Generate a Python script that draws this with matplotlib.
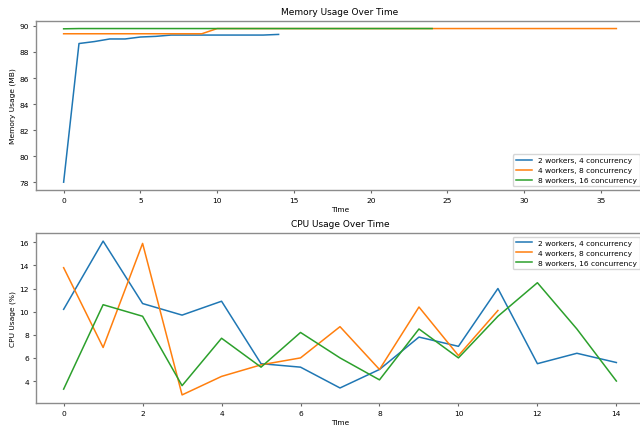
import matplotlib
matplotlib.use("Agg")
import matplotlib.pyplot as plt

labels = ["2 workers, 4 concurrency", "4 workers, 8 concurrency", "8 workers, 16 concurrency"]

# memory usage (MB), one sample per time step
mem_2w = [78.0, 88.65, 88.8, 89.0, 89.0, 89.15, 89.2, 89.3, 89.3, 89.3, 89.3, 89.3, 89.3, 89.3, 89.35]
mem_4w = [89.4] * 10 + [89.8] * 27
mem_8w = [89.78] + [89.8] * 24

# cpu usage (%)
cpu_2w = [10.2, 16.1, 10.7, 9.7, 10.9, 5.5, 5.2, 3.4, 5.0, 7.8, 7.0, 12.0, 5.5, 6.4, 5.6]
cpu_4w = [13.8, 6.9, 15.9, 2.8, 4.4, 5.4, 6.0, 8.7, 5.0, 10.4, 6.2, 10.1]
cpu_8w = [3.3, 10.6, 9.6, 3.6, 7.7, 5.2, 8.2, 6.0, 4.1, 8.5, 6.0, 9.6, 12.5, 8.5, 4.0]

plt.rcParams['font.size'] = 5.4

fig = plt.figure(figsize=(6.4, 4.27), dpi=100)
ax1 = fig.add_axes([36 / 640, 1 - 191 / 427, 608 / 640, 169 / 427])
ax2 = fig.add_axes([36 / 640, 1 - 404 / 427, 608 / 640, 170 / 427])

for ax in (ax1, ax2):
    for s in ax.spines.values():
        s.set_color('0.55')
        s.set_linewidth(1.0)
    ax.tick_params(length=2.5, width=0.8, color='0.4', pad=2.5)

for vals, lab in zip([mem_2w, mem_4w, mem_8w], labels):
    ax1.plot(range(len(vals)), vals, label=lab, lw=1.1)
ax1.set_title('Memory Usage Over Time', pad=5)
ax1.set_xlabel('Time', labelpad=2)
ax1.set_ylabel('Memory Usage (MB)', labelpad=2.5)
ax1.set_ylim(77.4, 90.38)
ax1.legend(loc='lower right', fontsize=5.4, handlelength=2.2)

for vals, lab in zip([cpu_2w, cpu_4w, cpu_8w], labels):
    ax2.plot(range(len(vals)), vals, label=lab, lw=1.1)
ax2.set_title('CPU Usage Over Time', pad=5)
ax2.set_xlabel('Time', labelpad=2)
ax2.set_ylabel('CPU Usage (%)', labelpad=2.5)
ax2.set_ylim(2.1, 16.8)
ax2.set_xticks(range(0, 15, 2))
ax2.legend(loc='upper right', fontsize=5.4, handlelength=2.2)

fig.savefig('out.png', dpi=100)
